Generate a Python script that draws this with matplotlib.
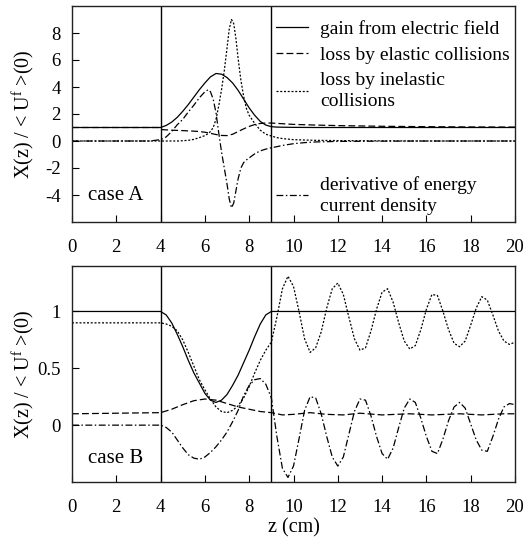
import matplotlib
matplotlib.use("Agg")
import matplotlib.pyplot as plt
from matplotlib.lines import Line2D

plt.rcParams['font.family'] = ['Liberation Serif', 'DejaVu Serif']
plt.rcParams['mathtext.fontset'] = 'custom'
plt.rcParams['mathtext.rm'] = 'Liberation Serif'
plt.rcParams['mathtext.it'] = 'Liberation Serif:italic'
plt.rcParams['font.size'] = 13
plt.rcParams['axes.unicode_minus'] = False

# field region boundaries (cm)
boundaries = [4, 9]

# ---- case A ----
z_gain_a = [0, 4, 4.25, 4.5, 4.75, 5, 5.25, 5.5, 5.75, 6, 6.25, 6.5, 6.75, 7, 7.25,
            7.5, 7.75, 8, 8.25, 8.5, 8.75, 9, 9.25, 9.5, 10, 11, 20]
gain_a = [1.0, 1.0, 1.15, 1.4, 1.75, 2.2, 2.7, 3.25, 3.8, 4.3, 4.75, 5.0, 4.95, 4.7, 4.3,
          3.75, 3.1, 2.45, 1.9, 1.45, 1.18, 1.06, 1.03, 1.02, 1.01, 1.0, 1.0]

z_el_a = [0, 3.9, 4.0, 4.5, 5, 5.5, 5.75, 6, 6.25, 6.5, 6.75, 7, 7.25, 7.5, 7.75, 8,
          8.25, 8.5, 8.75, 9, 9.5, 10, 11, 12, 14, 16, 18, 20]
el_a = [1.0, 1.0, 0.85, 0.8, 0.77, 0.73, 0.7, 0.65, 0.57, 0.48, 0.41, 0.4, 0.5, 0.7, 0.9, 1.08,
        1.22, 1.3, 1.33, 1.33, 1.28, 1.23, 1.18, 1.14, 1.09, 1.06, 1.04, 1.03]

z_a = [0, 3.5, 4.0, 4.25, 4.5, 4.75, 5.0, 5.25, 5.5, 5.75, 6.0, 6.15, 6.25, 6.375, 6.5,
       6.625, 6.75, 6.875, 7.0, 7.1, 7.2, 7.3, 7.4, 7.5, 7.625, 7.75, 7.875, 8.0, 8.25,
       8.5, 8.75, 9.0, 9.25, 9.5, 10, 10.5, 11, 12, 13, 14, 16, 20]
inel_a = [0, 0, 0, 0, 0, 0, 0.02, 0.05, 0.12, 0.25, 0.4, 0.55, 0.7, 1.0, 1.6,
          2.6, 3.8, 5.2, 6.9, 8.3, 9.0, 8.7, 7.6, 6.1, 4.5, 3.3, 2.4, 1.9, 1.3,
          0.8, 0.5, 0.37, 0.25, 0.18, 0.1, 0.07, 0.05, 0.03, 0.02, 0.01, 0.0, 0.0]
deriv_a = [0, 0, 0.1, 0.3, 0.7, 1.2, 1.6, 2.15, 2.65, 3.2, 3.65, 3.8, 3.65, 3.1, 2.1,
           0.6, -0.8, -2.0, -3.2, -4.3, -4.95, -4.6, -3.7, -2.8, -2.0, -1.6, -1.4, -1.25, -0.95,
           -0.73, -0.6, -0.5, -0.42, -0.33, -0.2, -0.12, -0.07, -0.03, -0.02, -0.01, 0.0, 0.0]

# ---- case B ----
z_gain_b = [0, 4, 4.25, 4.5, 4.75, 5, 5.25, 5.5, 5.75, 6, 6.25, 6.5, 6.75, 7, 7.25,
            7.5, 7.75, 8, 8.25, 8.5, 8.75, 9, 20]
gain_b = [1.0, 1.0, 0.97, 0.9, 0.8, 0.69, 0.57, 0.46, 0.37, 0.28, 0.22, 0.2, 0.22, 0.27, 0.35,
          0.44, 0.55, 0.66, 0.78, 0.89, 0.97, 1.0, 1.0]

z_el_b = [0, 4, 4.5, 5, 5.5, 6, 6.5, 7, 7.5, 8, 8.5, 9, 9.5, 10, 10.75, 11.5, 12.25,
          13, 14, 15.25, 16.25, 17.5, 18.5, 19.5, 20]
el_b = [0.1, 0.11, 0.14, 0.18, 0.215, 0.23, 0.22, 0.19, 0.16, 0.14, 0.12, 0.11, 0.09, 0.095,
        0.11, 0.095, 0.09, 0.105, 0.09, 0.1, 0.09, 0.1, 0.09, 0.1, 0.1]

z_b = [0, 3.5,
       4.0, 4.25, 4.5, 4.75, 5.0, 5.25, 5.5, 5.75, 6.0, 6.25, 6.5, 6.75, 7.0, 7.25, 7.5, 7.75,
       8.0, 8.25, 8.5, 8.75, 9.0, 9.25, 9.5, 9.75, 10.0, 10.25, 10.5, 10.75, 11.0, 11.25,
       11.5, 11.75, 12.0, 12.25, 12.5, 12.75, 13.0, 13.25, 13.5, 13.75, 14.0, 14.25, 14.5,
       14.75, 15.0, 15.25, 15.5, 15.75, 16.0, 16.25, 16.5, 16.75, 17.0, 17.25, 17.5, 17.75,
       18.0, 18.25, 18.5, 18.75, 19.0, 19.25, 19.5, 19.75, 20.0]
inel_b = [0.9, 0.9,
          0.9, 0.89, 0.87, 0.83, 0.75, 0.64, 0.52, 0.4, 0.31, 0.23, 0.16, 0.12, 0.11, 0.13, 0.17, 0.24,
          0.34, 0.46, 0.57, 0.66, 0.73, 0.95, 1.2, 1.31, 1.22, 1.0, 0.76, 0.64, 0.68, 0.82,
          1.03, 1.2, 1.25, 1.15, 0.95, 0.76, 0.66, 0.68, 0.83, 1.02, 1.17, 1.2, 1.08,
          0.9, 0.74, 0.67, 0.7, 0.84, 1.02, 1.15, 1.14, 1.0, 0.84, 0.72, 0.69, 0.74,
          0.88, 1.03, 1.13, 1.1, 0.97, 0.83, 0.74, 0.71, 0.73]
deriv_b = [0, 0,
           0.0, -0.02, -0.06, -0.13, -0.2, -0.26, -0.29, -0.3, -0.28, -0.24, -0.19, -0.13, -0.06, 0.03, 0.13, 0.26,
           0.35, 0.4, 0.41, 0.36, 0.24, -0.1, -0.38, -0.46, -0.36, -0.12, 0.13, 0.25, 0.24, 0.1,
           -0.1, -0.28, -0.36, -0.28, -0.08, 0.12, 0.23, 0.22, 0.08, -0.1, -0.25, -0.3, -0.2,
           -0.02, 0.15, 0.23, 0.2, 0.06, -0.1, -0.23, -0.25, -0.12, 0.04, 0.16, 0.2, 0.15,
           0.01, -0.13, -0.22, -0.23, -0.1, 0.05, 0.16, 0.19, 0.18]

labels = ['gain from electric field', 'loss by elastic collisions',
          'loss by inelastic\ncollisions', 'derivative of energy\ncurrent density']
styles = ['-', (0, (5.5, 2.5)), (0, (1.6, 1.4)), (0, (5.5, 2, 1.2, 2))]
xticks = [0, 2, 4, 6, 8, 10, 12, 14, 16, 18, 20]
yticks_a = [-4, -2, 0, 2, 4, 6, 8]
yticks_b = [0, 0.5, 1]
yticklabels_b = ['0', '0.5', '1']

lw = 0.9
W, H = 528, 539
fig = plt.figure(figsize=(W / 100, H / 100), dpi=100)
ax_a = fig.add_axes([72 / W, 1 - 222 / H, 443 / W, 216 / H])
ax_b = fig.add_axes([72 / W, 1 - 482 / H, 443 / W, 216 / H])

ax_a.plot(z_gain_a, gain_a, color='k', lw=lw, ls=styles[0])
ax_a.plot(z_el_a, el_a, color='k', lw=lw, ls=styles[1])
ax_a.plot(z_a, inel_a, color='k', lw=lw, ls=styles[2])
ax_a.plot(z_a, deriv_a, color='k', lw=lw, ls=styles[3])

ax_b.plot(z_gain_b, gain_b, color='k', lw=lw, ls=styles[0])
ax_b.plot(z_el_b, el_b, color='k', lw=lw, ls=styles[1])
ax_b.plot(z_b, inel_b, color='k', lw=lw, ls=styles[2])
ax_b.plot(z_b, deriv_b, color='k', lw=lw, ls=styles[3])

ylabel = r'X(z) / < U$^{\mathrm{f}}$ >(0)'
for ax in (ax_a, ax_b):
    for zb in boundaries:
        ax.axvline(zb, color='k', lw=1.0)
    ax.set_xlim(0, 20)
    ax.set_xticks(xticks)
    ax.tick_params(direction='in', length=5, width=0.8, top=False, right=False,
                   labelsize=13.5)
    ax.tick_params(axis='x', pad=12)
    ax.tick_params(axis='y', pad=8)
    for sp in ax.spines.values():
        sp.set_linewidth(1.0)
        sp.set_color('#222222')
    ax.set_ylabel(ylabel, fontsize=14.5)
    ax.yaxis.set_label_coords(-0.08, 0.5)

ax_a.set_ylim(-6, 10)
ax_a.set_yticks(yticks_a)
ax_b.set_ylim(-0.5, 1.4)
ax_b.set_yticks(yticks_b)
ax_b.set_yticklabels(yticklabels_b)
ax_b.set_xlabel('z (cm)', fontsize=14.5, labelpad=2)

ax_a.text(0.036, 0.125, 'case A', transform=ax_a.transAxes, va='center', fontsize=15)
ax_b.text(0.036, 0.11, 'case B', transform=ax_b.transAxes, va='center', fontsize=15)

handles = [Line2D([], [], color='k', lw=lw, ls=s) for s in styles]
leg_kw = dict(frameon=False, handlelength=1.65, handletextpad=0.62,
              borderaxespad=0.0, borderpad=0.2, fontsize=14)
leg1 = ax_a.legend(handles[:3], labels[:3], loc='upper left', labelspacing=0.42,
                   bbox_to_anchor=(0.452, 1.0 - 10 / 216), **leg_kw)
for t in leg1.get_texts():
    t.set_linespacing(1.35)
ax_a.add_artist(leg1)
leg2 = ax_a.legend(handles[3:], labels[3:], loc='lower left',
                   bbox_to_anchor=(0.452, 0.015), **leg_kw)
for t in leg2.get_texts():
    t.set_linespacing(1.3)

fig.savefig('out.png', dpi=100)
